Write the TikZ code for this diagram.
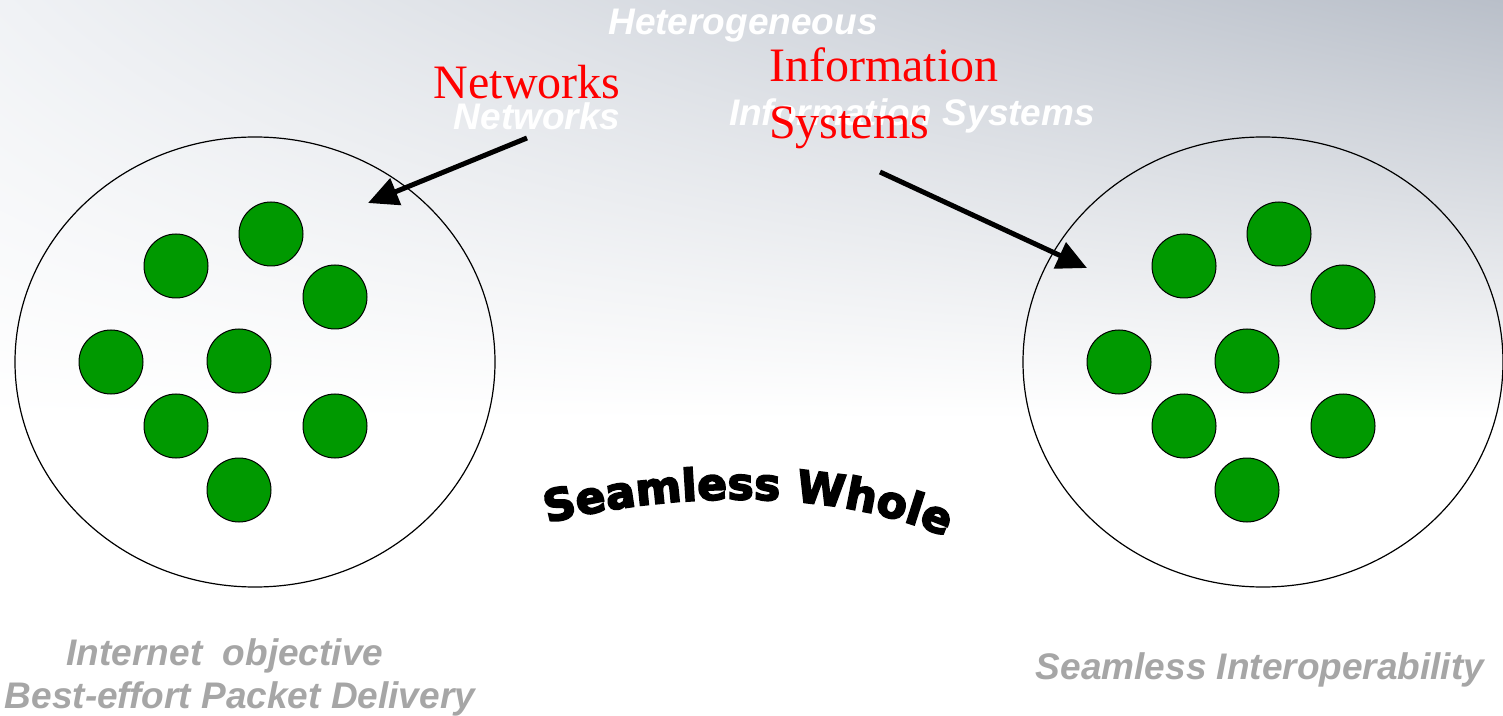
\documentclass[tikz,border=0pt]{standalone}
\usepackage{fontspec}
\setmainfont{Liberation Serif}
\setsansfont{Liberation Sans}
\newfontfamily\heavyfont{DejaVu Sans}[BoldFeatures={FakeBold=4}]
\usepackage{tikz}
\usetikzlibrary{positioning,shapes.geometric,shadings,arrows.meta,decorations.text}

\definecolor{dotgreen}{HTML}{009900}
\definecolor{capgray}{HTML}{A6A6A6}
\definecolor{skygray}{HTML}{B9BFC9}
\definecolor{skylight}{HTML}{F0F2F5}

\tikzset{
  cloud/.style={draw, ellipse, line width=0.6pt, minimum width=240pt, minimum height=225pt},
  dot/.style={draw, circle, fill=dotgreen, inner sep=0pt, minimum size=32pt, line width=0.5pt},
  ghost/.style={white, font=\sffamily\bfseries\itshape\fontsize{18.5}{20}\selectfont},
  redlabel/.style={red, font=\rmfamily\fontsize{24}{28.5}\selectfont, align=left},
  caption/.style={capgray, font=\sffamily\bfseries\itshape\fontsize{18.5}{21.5}\selectfont, align=center},
  pointer/.style={line width=2.5pt, -{Triangle[length=15pt,width=14pt]}}
}

\begin{document}
\begin{tikzpicture}[x=0.5pt,y=-0.5pt]
\useasboundingbox (0,0) rectangle (1503,716);

% Draw background
\fill[white] (0,0) rectangle (1503,716);
\shade[upper left=skylight, upper right=skygray, lower left=white, lower right=white] (0,0) rectangle (1503,420);

% Draw the two clusters
\node[cloud] (netCloud) at (255,362) {};
\node[cloud] (infoCloud) at (1263,362) {};
\foreach \side/\cx in {net/255, info/1263}
  \foreach \dx/\dy [count=\i] in {-79/-96, 16/-128, 80/-65, -144/0, -16/-1, -79/64, 80/64, -16/128}
    \node[dot] (\side\i) at (\cx+\dx,362+\dy) {};

% Faded headings
\node[ghost] (hetero) at (743,26) {Heterogeneous};
\node[ghost] (netGhost) at (537,116) {Networks};
\node[ghost] (infoGhost) at (912,116) {Information Systems};

% Red labels
\node[redlabel] (netLabel) at (527,82) {Networks};
\node[redlabel, anchor=north west] (infoLabel) at (762,41) {Information\\Systems};

% Draw pointers
\coordinate (netTail) at (527,138);
\coordinate (netTip) at (368,203);
\coordinate (infoTail) at (880,172);
\coordinate (infoTip) at (1087,268);
\draw[pointer] (netTail) -- (netTip);
\draw[pointer] (infoTail) -- (infoTip);

% Arched title
\path[decorate, decoration={text along path, text align=center,
  text={|\heavyfont\bfseries\fontsize{22}{24}\selectfont|Seamless Whole}}]
  (552,522) .. controls (680,490) and (835,490) .. (941,535);

% Bottom captions
\node[caption] (internetCap) at (240,677) {Internet\ \ objective\hspace*{15pt}\\Best-effort Packet Delivery};
\node[caption] (seamCap) at (1260,670) {Seamless Interoperability};

\end{tikzpicture}
\end{document}
